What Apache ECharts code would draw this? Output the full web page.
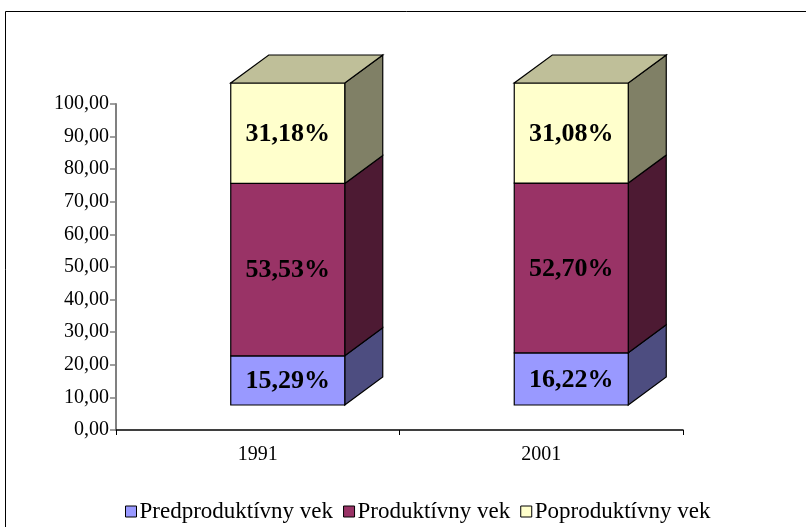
<!DOCTYPE html>
<html>
<head>
<meta charset="utf-8">
<script src="https://cdn.jsdelivr.net/npm/echarts@6/dist/echarts.min.js"></script>
<style>
  html, body { margin: 0; padding: 0; background: #fff; }
  #chart { width: 806px; height: 527px; }
</style>
</head>
<body>
<div id="chart"></div>
<script>
// data
const years = ["1991", "2001"]
const seriesNames = ["Predproduktívny vek", "Produktívny vek", "Poproduktívny vek"]
const predproduktivny = [15.29, 16.22]
const produktivny = [53.53, 52.70]
const poproduktivny = [31.18, 31.08]
const yTicks = [0, 10, 20, 30, 40, 50, 60, 70, 80, 90, 100]

// colours: front, side, top
const faces = [
  { front: "#9999ff", side: "#4d4d80", top: "#7373bf" },
  { front: "#993366", side: "#4d1a33", top: "#73264d" },
  { front: "#ffffcc", side: "#808066", top: "#bfbf99" }
]

const depthX = 38, depthY = -28   // 3D depth in px
const shiftX = 30                 // front face shift from category centre
const halfW = 57

const values = [predproduktivny, produktivny, poproduktivny]

function fmt(v) {
  return v.toFixed(2).replace(".", ",")
}

function makeSeries(k) {
  const data = years.map((y, i) => {
    let base = 0
    for (let j = 0; j < k; j++) base += values[j][i]
    return [i, base, base + values[k][i]]
  })
  const isTop = k === values.length - 1
  return {
    name: seriesNames[k],
    type: "custom",
    xAxisIndex: 0,
    yAxisIndex: 1,
    itemStyle: { color: faces[k].front },
    data: data,
    renderItem: function (params, api) {
      const p0 = api.coord([api.value(0), api.value(1)])
      const p1 = api.coord([api.value(0), api.value(2)])
      const x0 = p0[0] + shiftX - halfW
      const x1 = p0[0] + shiftX + halfW
      const yb = p0[1]
      const yt = p1[1]
      const val = api.value(2) - api.value(1)
      const children = [
        {
          type: "polygon",
          shape: { points: [[x1, yb], [x1 + depthX, yb + depthY], [x1 + depthX, yt + depthY], [x1, yt]] },
          style: { fill: faces[k].side, stroke: "#000", lineWidth: 1.2 }
        },
        {
          type: "rect",
          shape: { x: x0, y: yt, width: x1 - x0, height: yb - yt },
          style: { fill: faces[k].front, stroke: "#000", lineWidth: 1.2 }
        },
        {
          type: "text",
          style: {
            text: fmt(val) + "%",
            x: (x0 + x1) / 2,
            y: (yt + yb) / 2 + 1,
            align: "center",
            verticalAlign: "middle",
            fontFamily: "Liberation Serif",
            fontWeight: "bold",
            fontSize: 26,
            fill: "#000"
          }
        }
      ]
      if (isTop) {
        children.push({
          type: "polygon",
          shape: { points: [[x0, yt], [x1, yt], [x1 + depthX, yt + depthY], [x0 + depthX, yt + depthY]] },
          style: { fill: faces[k].top, stroke: "#000", lineWidth: 1.2 }
        })
      }
      return { type: "group", children: children }
    }
  }
}

let option = {
  animation: false,
  backgroundColor: "#fff",
  textStyle: { fontFamily: "Liberation Serif" },
  graphic: [
    {
      type: "rect",
      shape: { x: 5.5, y: 11.5, width: 820, height: 540 },
      style: { fill: "none", stroke: "#000", lineWidth: 1 },
      z: 100
    }
  ],
  grid: { left: 116, right: 123, top: 104, bottom: 97 },
  legend: {
    top: 495,
    left: 120,
    itemWidth: 11,
    itemHeight: 11,
    itemGap: 10,
    icon: "rect",
    textStyle: { fontFamily: "Liberation Serif", fontSize: 23, color: "#000", padding: [0, 0, 0, -2] },
    itemStyle: { borderColor: "#000", borderWidth: 1 },
    data: seriesNames
  },
  xAxis: {
    type: "category",
    data: years,
    axisLine: { lineStyle: { color: "#000", width: 1.5 } },
    axisTick: { show: true, length: 5, lineStyle: { color: "#000" } },
    axisLabel: { color: "#000", fontSize: 20, fontFamily: "Liberation Serif", margin: 15 }
  },
  yAxis: [
    {
      type: "value",
      min: 0,
      max: 100,
      interval: 10,
      splitLine: { show: false },
      axisLine: { show: true, lineStyle: { color: "#808080", width: 2 } },
      axisTick: { show: true, length: 6, lineStyle: { color: "#808080", width: 1.5 } },
      axisLabel: {
        color: "#000",
        fontSize: 20,
        fontFamily: "Liberation Serif",
        margin: 7,
        formatter: v => yTicks.indexOf(v) >= 0 ? fmt(v) : ""
      }
    },
    {
      // hidden axis for the front faces of the 3D bars
      type: "value",
      min: -7.76,
      max: 93.48,
      show: false,
      splitLine: { show: false }
    }
  ],
  series: [makeSeries(0), makeSeries(1), makeSeries(2)]
}

let chartEl = echarts.init(document.getElementById("chart"))
chartEl.setOption(option)
</script>
</body>
</html>
